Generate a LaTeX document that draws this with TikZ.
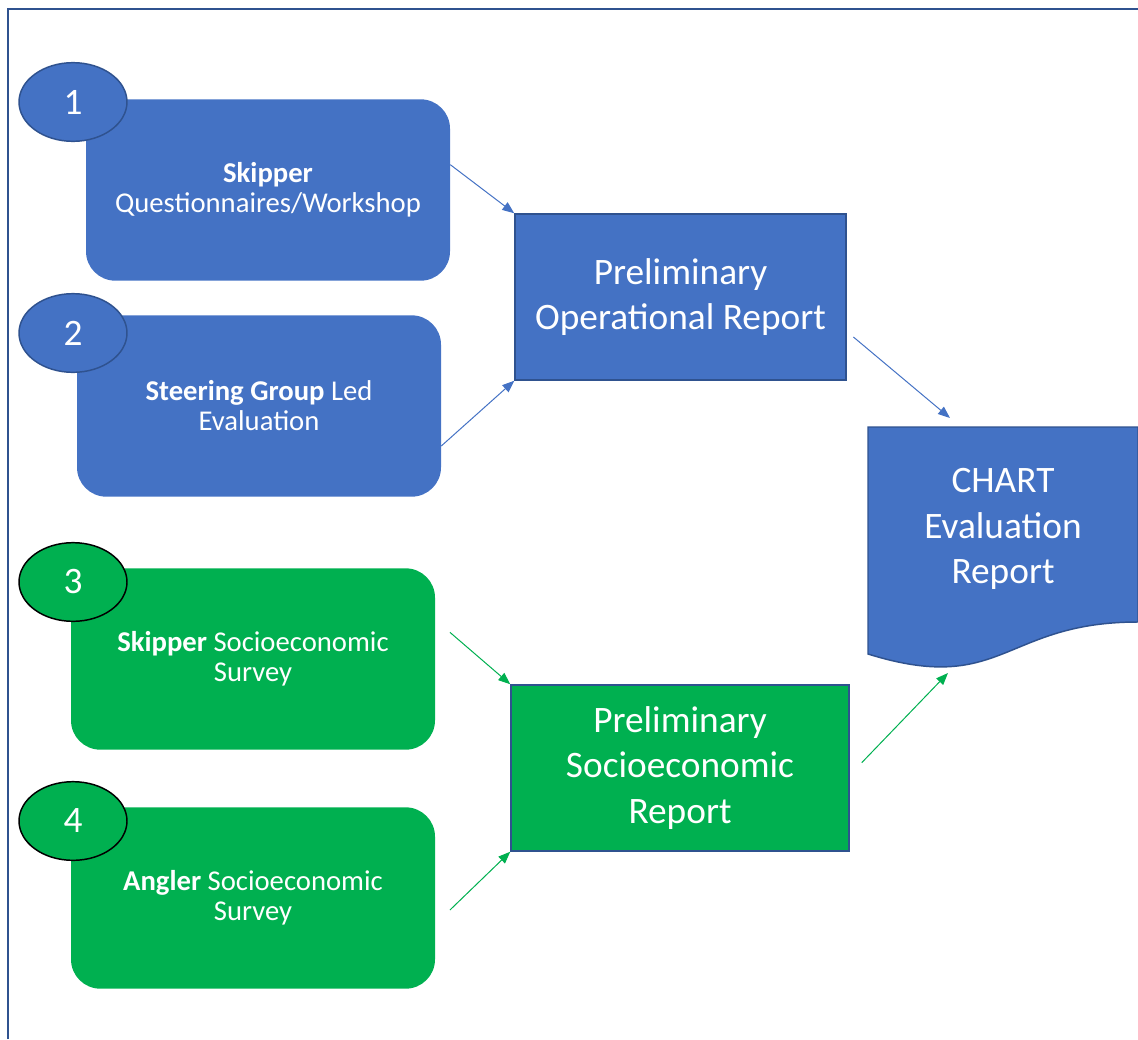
\documentclass[tikz,border=0pt]{standalone}
\usepackage{fontspec}
\setmainfont{Carlito}
\usetikzlibrary{arrows.meta, positioning, shapes.geometric}
\definecolor{opblue}{RGB}{68,114,196}
\definecolor{edgeblue}{RGB}{47,82,143}
\definecolor{socgreen}{RGB}{0,176,80}

\begin{document}
\begin{tikzpicture}[x=0.75pt,y=-0.75pt,
		srcbox/.style={rounded corners=22pt,minimum width=273pt,minimum height=136pt,
			align=center,text=white,font=\fontsize{21.5}{22.5}\selectfont},
		numtag/.style={ellipse,minimum width=81pt,minimum height=59pt,inner sep=0pt,
			line width=1.1pt,text=white,font=\fontsize{28}{30}\selectfont},
		report/.style={rectangle,draw=edgeblue,line width=1.1pt,minimum height=124.5pt,
			align=center,text=white,font=\fontsize{28}{34}\selectfont},
		bluearrow/.style={opblue,line width=0.75pt,-{Triangle[length=9pt,width=7pt]}},
		greenarrow/.style={socgreen,line width=0.75pt,-{Triangle[length=9pt,width=7pt]}}]
	\useasboundingbox (0,0) rectangle (1138,1039);
	% frame
	\draw[edgeblue,line width=2pt] (8,1039) -- (8,9) -- (1138,9);
	% source boxes
	\node[srcbox,fill=opblue] (sk1) at (268,190) {\textbf{Skipper}\\Questionnaires/Workshop};
	\node[srcbox,fill=opblue] (sg2) at (259,406) {\textbf{Steering Group} Led\\Evaluation};
	\node[srcbox,fill=socgreen] (sk3) at (253,659) {\textbf{Skipper} Socioeconomic\\Survey};
	\node[srcbox,fill=socgreen] (an4) at (253,898) {\textbf{Angler} Socioeconomic\\Survey};
	% number tags
	\node[numtag,fill=opblue,draw=edgeblue] (n1) at (73,102) {1};
	\node[numtag,fill=opblue,draw=edgeblue] (n2) at (73,333) {2};
	\node[numtag,fill=socgreen,draw=black] (n3) at (73,582) {3};
	\node[numtag,fill=socgreen,draw=black] (n4) at (73,821) {4};
	% preliminary reports
	\node[report,fill=opblue,minimum width=248.25pt] (opr) at (680.5,297) {Preliminary\\Operational Report};
	\node[report,fill=socgreen,minimum width=253.5pt] (ser) at (680,768) {Preliminary\\Socioeconomic\\Report};
	% final report (document shape)
	\draw[fill=opblue,draw=edgeblue,line width=1.1pt] (868,427) -- (1138,427) -- (1138,622)
		.. controls (1003,622) and (1003,696) .. (868,654) -- cycle;
	\node[align=center,text=white,font=\fontsize{28}{34}\selectfont] (chart) at (1003,529) {CHART\\Evaluation\\Report};
	\coordinate (docin) at (950,418);
	\coordinate (docout) at (948,673);
	% connectors
	\draw[bluearrow] ([yshift=19pt]sk1.east) -- (opr.north west);
	\draw[bluearrow] ([yshift=-30pt]sg2.east) -- (opr.south west);
	\draw[greenarrow] ([xshift=11pt,yshift=20pt]sk3.east) -- (ser.north west);
	\draw[greenarrow] ([xshift=11pt,yshift=-9pt]an4.east) -- (ser.south west);
	\draw[bluearrow] ([xshift=5pt,yshift=-30pt]opr.east) -- (docin);
	\draw[greenarrow] ([xshift=9pt,yshift=4pt]ser.east) -- (docout);
\end{tikzpicture}
\end{document}
